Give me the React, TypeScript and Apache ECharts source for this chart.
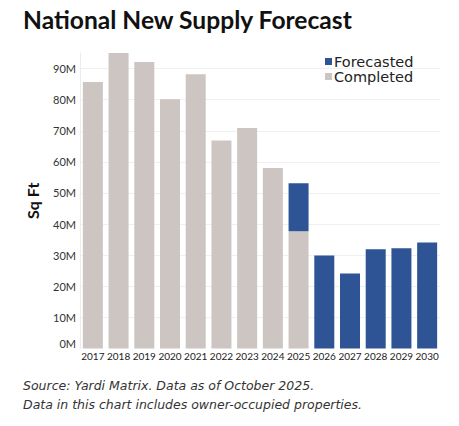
import React, { useEffect, useRef } from "react";
import * as echarts from "echarts";

const years = ["2017", "2018", "2019", "2020", "2021", "2022", "2023", "2024", "2025", "2026", "2027", "2028", "2029", "2030"];
const completed = [85.7, 95.0, 92.1, 80.1, 88.2, 66.9, 70.9, 58.0, 37.7, null, null, null, null, null];
const forecasted = [null, null, null, null, null, null, null, null, 15.4, 29.9, 24.1, 31.9, 32.2, 34.1];
const footnotes = ["Source: Yardi Matrix. Data as of October 2025.", "Data in this chart includes owner-occupied properties."];

const FONT = "Lato, 'Noto Sans', sans-serif";
const WIDE = "'DejaVu Sans', 'Noto Sans', sans-serif";

export default function App() {
  const ref = useRef<HTMLDivElement>(null);
  useEffect(() => {
    if (!ref.current) return;
    const chart = echarts.init(ref.current, undefined, { renderer: "svg" });
    chart.setOption({
      animation: false,
      backgroundColor: "#ffffff",
      title: {
        text: "National New Supply Forecast",
        left: 23,
        top: 7,
        padding: 0,
        textStyle: { fontFamily: FONT, fontWeight: 700, fontSize: 24.6, color: "#111111" },
      },
      legend: {
        data: ["Forecasted", "Completed"],
        orient: "vertical",
        left: 325,
        top: 54,
        padding: 0,
        itemGap: 0,
        itemWidth: 7,
        itemHeight: 7,
        icon: "rect",
        selectedMode: false,
        textStyle: { fontFamily: WIDE, fontSize: 14.5, color: "#222222", lineHeight: 15, padding: [0, 0, 0, -3] },
      },
      grid: { left: 80, right: 19, top: 53, bottom: 77.5 },
      xAxis: {
        type: "category",
        data: years,
        axisLine: { show: false },
        axisTick: { show: false },
        axisLabel: { interval: 0, fontFamily: FONT, fontSize: 10, color: "#222222", margin: 2 },
      },
      yAxis: {
        type: "value",
        min: 0,
        max: 95,
        interval: 10,
        name: "Sq Ft",
        nameLocation: "middle",
        nameRotate: 90,
        nameGap: 40,
        nameTextStyle: { fontFamily: FONT, fontWeight: 700, fontSize: 16, color: "#111111" },
        axisLine: { show: true, lineStyle: { color: "#ececec", width: 1 } },
        axisTick: { show: false },
        splitLine: { show: true, showMaxLine: false, showMinLine: false, lineStyle: { color: "#f0f0f0", width: 1 } },
        axisLabel: {
          showMaxLabel: false,
          fontFamily: FONT,
          fontSize: 11,
          color: "#333333",
          margin: 4,
          formatter: (v: number) => (v === 0 ? "{z|0M}" : v + "M"),
          rich: { z: { fontFamily: FONT, fontSize: 11, color: "#333333", padding: [0, 0, 10, 0] } },
        },
      },
      series: [
        {
          name: "Completed",
          type: "bar",
          stack: "s",
          data: completed,
          barWidth: 20,
          itemStyle: { color: "#CDC5C2" },
        },
        {
          name: "Forecasted",
          type: "bar",
          stack: "s",
          data: forecasted,
          barWidth: 20,
          itemStyle: { color: "#2E5496" },
        },
      ],
      graphic: footnotes.map((t, i) => ({
        type: "text",
        left: 23,
        top: 379 + i * 19,
        style: { text: t, font: `italic 12.5px ${WIDE}`, fill: "#333333" },
      })),
    });
    return () => chart.dispose();
  }, []);
  return <div ref={ref} style={{ position: "absolute", left: 0, top: 0, width: 459, height: 426 }} />;
}
